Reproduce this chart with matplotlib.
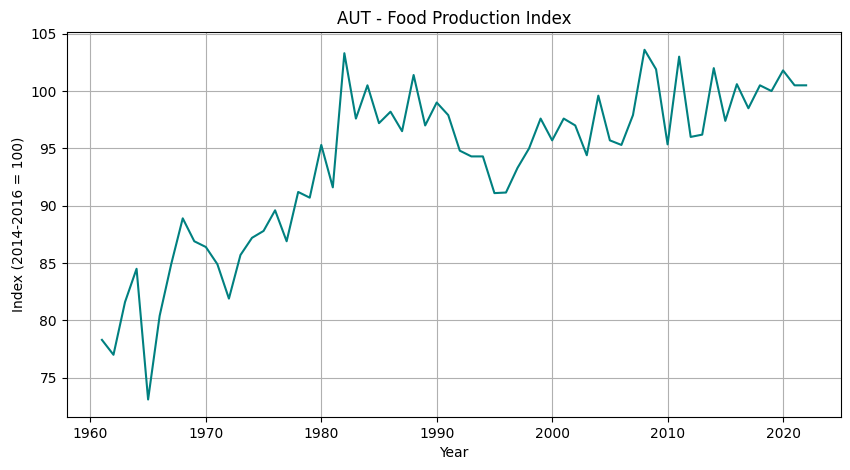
import matplotlib
matplotlib.use("Agg")
import matplotlib.pyplot as plt

# Food production index for Austria
years = list(range(1961, 2023))
index_values = [
    78.3, 77.0, 81.6, 84.5, 73.1, 80.4, 84.9, 88.9, 86.9, 86.4,
    84.9, 81.9, 85.7, 87.2, 87.8, 89.6, 86.9, 91.2, 90.7, 95.3,
    91.6, 103.3, 97.6, 100.5, 97.2, 98.2, 96.5, 101.4, 97.0, 99.0,
    97.9, 94.8, 94.3, 94.3, 91.1, 91.15, 93.3, 95.0, 97.6, 95.7,
    97.6, 97.0, 94.4, 99.6, 95.7, 95.3, 97.9, 103.6, 101.9, 95.35,
    103.0, 96.0, 96.2, 102.0, 97.4, 100.6, 98.5, 100.5, 100.0, 101.8,
    100.5, 100.5,
]

fig = plt.figure(figsize=(8.5, 4.7), dpi=100)
ax = fig.add_axes([0.0785, 0.1128, 0.9113, 0.8185])

ax.plot(years, index_values, color="teal", linewidth=1.5)
ax.set_title("AUT - Food Production Index")
ax.set_xlabel("Year")
ax.set_ylabel("Index (2014-2016 = 100)")
ax.grid(True)

fig.savefig("out.png", dpi=100)
